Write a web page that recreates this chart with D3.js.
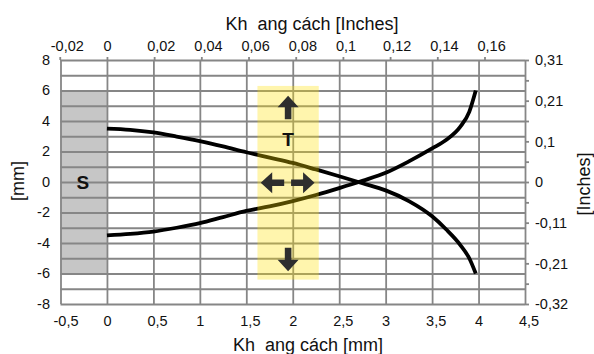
<!DOCTYPE html>
<html><head><meta charset="utf-8">
<script src="https://cdn.jsdelivr.net/npm/d3@7"></script>
<style>
body{margin:0;background:#fff}
svg{display:block}
text{font-family:"Liberation Sans",Arial,Helvetica,sans-serif;fill:#111}
</style>
</head><body>
<svg id="chart" width="594" height="354"></svg>
<script>
// ---- data ----
const xTicksMm = [-0.5, 0, 0.5, 1, 1.5, 2, 2.5, 3, 3.5, 4, 4.5];
const xTickLabels = ["-0,5", "0", "0,5", "1", "1,5", "2", "2,5", "3", "3,5", "4", "4,5"];
const yGridMm = [8, 7, 6, 5, 4, 3, 2, 1, 0, -1, -2, -3, -4, -5, -6, -7, -8];
const yTickLabels = ["8", "", "6", "", "4", "", "2", "", "0", "", "-2", "", "-4", "", "-6", "", "-8"];
const topTicksIn = [-0.02, 0, 0.02, 0.04, 0.06, 0.08, 0.1, 0.12, 0.14, 0.16];
const topTickLabels = ["-0,02", "0", "0,02", "0,04", "0,06", "0,08", "0,1", "0,12", "0,14", "0,16"];
const rightTickLabels = ["0,31", "0,21", "0,1", "0", "-0,11", "-0,21", "-0,32"];

const curveX     = [0, 0.25, 0.5, 0.75, 1.0, 1.25, 1.5, 1.75, 2.0, 2.25, 2.5, 2.75, 3.0, 3.25, 3.5, 3.65, 3.8, 3.9, 3.97];
const curveUpper = [3.5, 3.42, 3.25, 2.98, 2.68, 2.33, 1.95, 1.6, 1.25, 0.82, 0.38, -0.08, -0.55, -1.25, -2.25, -3.1, -4.1, -5.0, -6.0];
const curveLower = [-3.5, -3.4, -3.25, -3.0, -2.7, -2.3, -1.9, -1.6, -1.25, -0.85, -0.4, 0.08, 0.6, 1.35, 2.2, 2.75, 3.6, 4.6, 6.0];

const sRegionX = [-0.5, 0];
const sRegionY = [-6, 6];
const sLabel = "S";
const tBandX = [1.62, 2.28];
const tBandY = [-6.4, 6.3];
const tLabel = "T";

const xTitle = "Kh\u00a0\u00a0ang cách [mm]";
const topTitle = "Kh\u00a0\u00a0ang cách [Inches]";
const yTitle = "[mm]";
const rightTitle = "[Inches]";

// ---- layout ----
const L = 60.5, R = 525, T = 60, B = 304;
const MM_PER_IN = 25.4;
const svg = d3.select("#chart");
svg.append("rect").attr("width", 594).attr("height", 354).attr("fill", "#fff");

const x = d3.scaleLinear().domain([-0.5, 4.5]).range([L, R]);
const y = d3.scaleLinear().domain([-8, 8]).range([B, T]);
const xIn = d3.scaleLinear().domain([-0.5 / MM_PER_IN, 4.5 / MM_PER_IN]).range([L, R]);
const yIn = d3.scaleLinear().domain([-8 / MM_PER_IN, 8 / MM_PER_IN]).range([B, T]);

const gridColor = "#868686";
const labelSize = "14.5px";

// S region
svg.append("rect")
  .attr("x", x(sRegionX[0])).attr("y", y(sRegionY[1]))
  .attr("width", x(sRegionX[1]) - x(sRegionX[0]))
  .attr("height", y(sRegionY[0]) - y(sRegionY[1]))
  .attr("fill", "#c6c6c6");

// bottom axis with vertical grid
const gx = svg.append("g").attr("transform", `translate(0,${B})`)
  .call(d3.axisBottom(x).tickValues(xTicksMm).tickSize(-(B - T)).tickFormat((d, i) => xTickLabels[i]));
// left axis with horizontal grid
const gy = svg.append("g").attr("transform", `translate(${L},0)`)
  .call(d3.axisLeft(y).tickValues(yGridMm).tickSize(-(R - L)).tickFormat((d, i) => yTickLabels[i]));
// top axis (inches)
const gt = svg.append("g").attr("transform", `translate(0,${T})`)
  .call(d3.axisTop(xIn).tickValues(topTicksIn).tickSize(3).tickFormat((d, i) => topTickLabels[i]));
// right axis (inches)
const rightTicks = d3.range(13).map(i => (8 - i * 16 / 12) / MM_PER_IN);
const gr = svg.append("g").attr("transform", `translate(${R},0)`)
  .call(d3.axisRight(yIn).tickValues(rightTicks).tickSize(4).tickFormat((d, i) => i % 2 === 0 ? rightTickLabels[i / 2] : ""));

[gx, gy, gt, gr].forEach(g => {
  g.select(".domain").remove();
  g.selectAll(".tick line").attr("stroke", gridColor).attr("stroke-width", 1.8);
  g.selectAll("text").attr("font-size", labelSize).attr("fill", "#111")
    .style("font-family", '"Liberation Sans", Arial, Helvetica, sans-serif');
});

function commaAnchor(sel, labels, posOff, negOff) {
  sel.selectAll(".tick text").each(function (d, i) {
    const s = labels[i];
    const t = d3.select(this);
    if (s.indexOf(",") >= 0) {
      t.attr("text-anchor", "start").attr("x", s[0] === "-" ? negOff : posOff);
    } else {
      t.attr("text-anchor", "middle").attr("x", 0);
    }
  });
}
gx.selectAll(".tick text").attr("y", 22).attr("dy", 0);
commaAnchor(gx, xTickLabels, -6.5, -7.5);
gt.selectAll(".tick text").attr("y", -9).attr("dy", 0);
commaAnchor(gt, topTickLabels, -7.5, -9.5);
gy.selectAll(".tick text").attr("x", -10.5).attr("dy", "0.3em").attr("text-anchor", "end");
gr.selectAll(".tick text").attr("x", 10).attr("dy", "0.33em").attr("text-anchor", "start");

// curves
const line = d3.line().x(d => x(d[0])).y(d => y(d[1])).curve(d3.curveMonotoneX);
[curveUpper, curveLower].forEach(vals => {
  svg.append("path")
    .attr("d", line(curveX.map((cx, i) => [cx, vals[i]])))
    .attr("fill", "none").attr("stroke", "#000").attr("stroke-width", 3.8);
});

// T band (translucent yellow)
svg.append("rect")
  .attr("x", x(tBandX[0])).attr("y", y(tBandY[1]))
  .attr("width", x(tBandX[1]) - x(tBandX[0]))
  .attr("height", y(tBandY[0]) - y(tBandY[1]))
  .attr("fill", "#ffe100").attr("fill-opacity", 0.32);

// arrows
function arrow(tipX, tipY, dx, dy) {
  const hl = 11.5, hw = 10.5, sw = 3.3, sl = 12;
  const px = -dy, py = dx; // perpendicular
  const bx = tipX - dx * hl, by = tipY - dy * hl;
  const ex = bx - dx * sl, ey = by - dy * sl;
  const pts = [
    [tipX, tipY],
    [bx + px * hw, by + py * hw],
    [bx + px * sw, by + py * sw],
    [ex + px * sw, ey + py * sw],
    [ex - px * sw, ey - py * sw],
    [bx - px * sw, by - py * sw],
    [bx - px * hw, by - py * hw]
  ];
  svg.append("path").attr("d", "M" + pts.map(p => p.join(",")).join("L") + "Z").attr("fill", "#2e2e2e");
}
const acx = x(1.95);
arrow(acx, y(5.65), 0, -1);
arrow(acx, y(-5.85), 0, 1);
arrow(x(1.655), y(-0.05), -1, 0);
arrow(x(2.235), y(-0.05), 1, 0);

// labels S, T
svg.append("text").attr("x", x(-0.26)).attr("y", y(0)).attr("dy", "0.36em")
  .attr("text-anchor", "middle").attr("font-size", "19px").attr("font-weight", "bold").text(sLabel);
svg.append("text").attr("x", acx).attr("y", y(2.82)).attr("dy", "0.36em")
  .attr("text-anchor", "middle").attr("font-size", "19px").attr("font-weight", "bold").text(tLabel);

// titles
svg.append("text").attr("x", 308).attr("y", 351).attr("text-anchor", "middle").attr("font-size", "18px").text(xTitle);
svg.append("text").attr("x", 312).attr("y", 30).attr("text-anchor", "middle").attr("font-size", "18px").text(topTitle);
svg.append("text").attr("transform", "translate(17.5,181) rotate(-90)").attr("dy", "0.35em")
  .attr("text-anchor", "middle").attr("font-size", "18px").text(yTitle);
svg.append("text").attr("transform", "translate(584,184) rotate(-90)").attr("dy", "0.35em")
  .attr("text-anchor", "middle").attr("font-size", "18px").text(rightTitle);
</script>
</body></html>
